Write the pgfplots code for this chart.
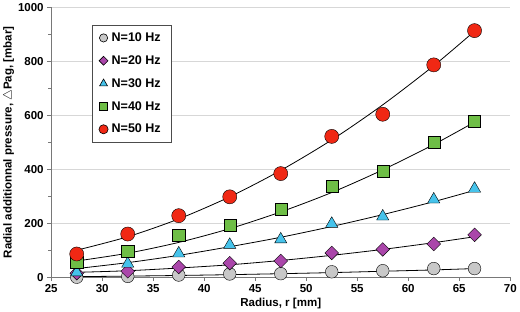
\documentclass[border=0pt]{standalone}
\usepackage{pgfplots}
\pgfplotsset{compat=1.18}
\usepackage{fontspec}
\setmainfont{Liberation Sans}

\definecolor{c10}{RGB}{200,200,200}
\definecolor{c20}{RGB}{170,70,170}
\definecolor{c30}{RGB}{70,195,235}
\definecolor{c40}{RGB}{110,190,70}
\definecolor{c50}{RGB}{240,40,20}
\definecolor{gridc}{RGB}{215,215,215}
\definecolor{axc}{RGB}{120,120,120}

\begin{document}
\begin{tikzpicture}
\begin{axis}[
  scale only axis,
  width=456bp, height=268bp,
  xmin=25, xmax=70, ymin=0, ymax=1000,
  xtick={25,30,...,70},
  ytick={0,200,...,1000},
  minor y tick num=1,
  axis x line*=bottom, axis y line*=left,
  axis line style={axc, line width=0.8pt, -},
  tick style={axc, line width=0.8pt},
  tick align=outside,
  major tick length=4bp, minor tick length=3bp,
  ymajorgrids, major grid style={gridc, line width=1pt},
  tick label style={font=\bfseries\fontsize{11.5}{13}\selectfont, black},
  /pgf/number format/assume math mode=true,
  /pgf/number format/1000 sep={},
  xlabel={Radius, r [mm]},
  ylabel={Radial additionnal pressure, $\bigtriangleup$Pag,  [mbar]},
  label style={font=\bfseries\fontsize{11.5}{13}\selectfont},
  xlabel style={yshift=2bp},
  ylabel style={yshift=-3bp},
  legend style={at={(0.088,0.935)}, anchor=north west, draw=black!70, line width=0.6pt,
    font=\bfseries\fontsize{12.5}{14}\selectfont, row sep=9.5bp, inner xsep=7bp, inner ysep=6bp,
    nodes={inner xsep=3.5bp, inner ysep=1.5bp}},
  legend image post style={/tikz/every mark/.append style={scale=0.65}},
  legend cell align=left,
  every axis plot/.append style={mark options={draw=black!65, line width=0.5pt}},
]
% measured points
\addplot[only marks, mark=*, mark size=6.3bp, mark options={fill=c10}] coordinates {
 (27.5,0) (32.5,3) (37.5,8) (42.5,12) (47.5,13) (52.5,20) (57.5,24) (62.5,32) (66.5,32)};
\addlegendentry{N=10 Hz}
\addplot[only marks, mark=square*, mark size=4.8bp, mark options={fill=c20, rotate=45}] coordinates {
 (27.5,15) (32.5,22) (37.5,38) (42.5,52) (47.5,60) (52.5,90) (57.5,103) (62.5,123) (66.5,157)};
\addlegendentry{N=20 Hz}
\addplot[only marks, mark=triangle*, mark size=7bp, mark options={fill=c30}] coordinates {
 (27.5,18) (32.5,50) (37.5,88) (42.5,120) (47.5,140) (52.5,198) (57.5,225) (62.5,288) (66.5,328)};
\addlegendentry{N=30 Hz}
\addplot[only marks, mark=square*, mark size=6bp, mark options={fill=c40}] coordinates {
 (27.5,55) (32.5,97) (37.5,157) (42.5,194) (47.5,253) (52.5,339) (57.5,392) (62.5,500) (66.5,578)};
\addlegendentry{N=40 Hz}
\addplot[only marks, mark=*, mark size=7bp, mark options={fill=c50}] coordinates {
 (27.5,86) (32.5,160) (37.5,228) (42.5,298) (47.5,384) (52.5,522) (57.5,604) (62.5,787) (66.5,914)};
\addlegendentry{N=50 Hz}
% trend lines
\addplot[black, line width=0.8pt, smooth, no marks, forget plot] coordinates {
 (27.5,2) (32.5,4) (37.5,6.4) (42.5,9.4) (47.5,13) (52.5,17) (57.5,22) (62.5,27) (66.5,32)};
\addplot[black, line width=0.8pt, smooth, no marks, forget plot] coordinates {
 (27.5,18) (32.5,24) (37.5,34) (42.5,46) (47.5,62) (52.5,81) (57.5,103) (62.5,128) (66.5,150)};
\addplot[black, line width=0.8pt, smooth, no marks, forget plot] coordinates {
 (27.5,32) (32.5,54) (37.5,81) (42.5,113) (47.5,148) (52.5,188) (57.5,232) (62.5,280) (66.5,322)};
\addplot[black, line width=0.8pt, smooth, no marks, forget plot] coordinates {
 (27.5,60) (32.5,89) (37.5,129) (42.5,180) (47.5,242) (52.5,314) (57.5,398) (62.5,492) (66.5,575)};
\addplot[black, line width=0.8pt, smooth, no marks, forget plot] coordinates {
 (27.5,100) (32.5,150) (37.5,216) (42.5,298) (47.5,396) (52.5,509) (57.5,639) (62.5,784) (66.5,912)};
\end{axis}
\end{tikzpicture}
\end{document}
